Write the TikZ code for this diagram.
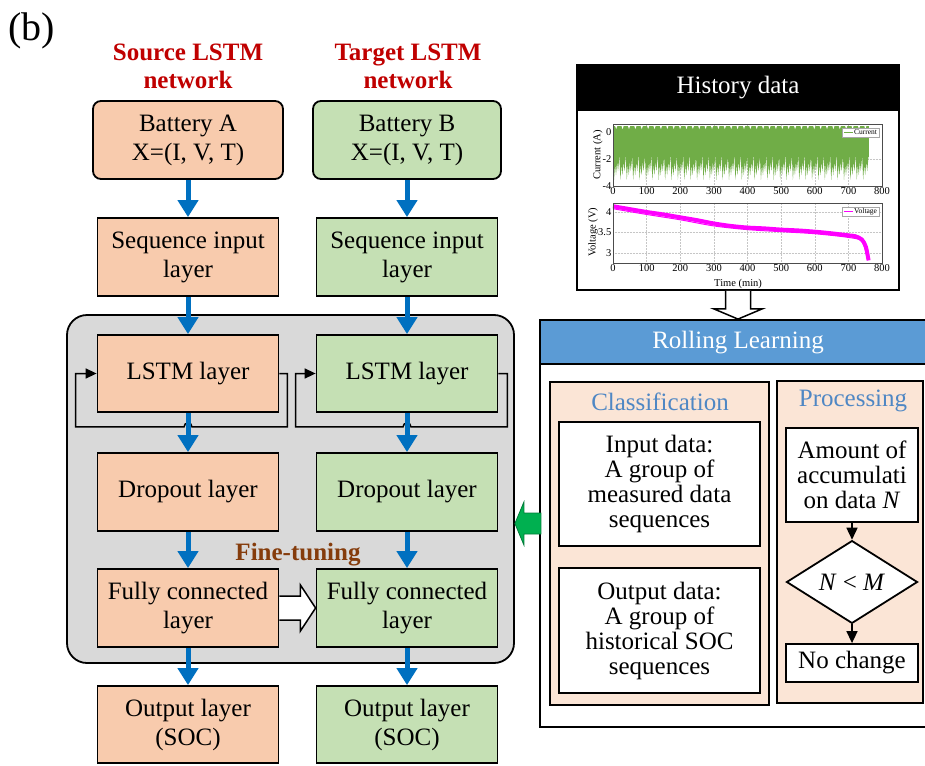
\documentclass[tikz,border=0pt]{standalone}
\usepackage{fontspec}
\setmainfont{Liberation Serif}
\usetikzlibrary{arrows.meta,shapes.geometric,calc}
\definecolor{peach}{RGB}{248,203,173}
\definecolor{mint}{RGB}{197,224,180}
\definecolor{panelgray}{RGB}{217,217,217}
\definecolor{arrowblue}{RGB}{0,112,192}
\definecolor{headblue}{RGB}{91,155,213}
\definecolor{titlered}{RGB}{192,0,0}
\definecolor{finebrown}{RGB}{133,60,12}
\definecolor{lightpeach}{RGB}{251,229,214}
\definecolor{textblue}{RGB}{79,135,196}
\definecolor{plotgreen}{RGB}{112,173,71}
\definecolor{arrowgreen}{RGB}{0,176,80}
\definecolor{plotmagenta}{RGB}{255,0,255}
\tikzset{
  base/.style={font=\fontsize{25}{29}\selectfont, align=center, inner sep=0pt},
  layerA/.style={base, draw=black, line width=1.8pt, fill=peach, minimum width=181pt, minimum height=78pt},
  layerB/.style={layerA, fill=mint},
  flow/.style={draw=arrowblue, line width=5pt, -{Triangle[width=20pt,length=17pt]}},
  fb/.style={draw=black, line width=1.5pt, -{Triangle[width=10pt,length=11pt]}},
  barrow/.style={draw=black, line width=1.5pt, -{Triangle[width=11pt,length=12pt]}},
  titletxt/.style={base, font=\fontsize{25}{28}\selectfont\bfseries, text=titlered},
  frame/.style={draw=black, line width=1.8pt, inner sep=0pt},
  wbox/.style={base, font=\fontsize{25}{25}\selectfont, draw=black, line width=1.8pt, fill=white},
  gridl/.style={draw=gray!45, line width=0.5pt, densely dotted},
  axisl/.style={draw=gray!60!black, line width=0.6pt},
  tick/.style={font=\fontsize{10.5}{12}\selectfont, inner sep=1.5pt},
  legendbox/.style={draw=gray!70, fill=white, line width=0.4pt, inner sep=0pt, minimum width=37pt, minimum height=9pt, font=\fontsize{7.5}{8}\selectfont},
}
\begin{document}
\begin{tikzpicture}[x=1pt,y=-1pt]
\useasboundingbox (0,0) rectangle (925,765);
\fill[white] (0,0) rectangle (925,765);

% label and titles
\node[base, font=\fontsize{40}{44}\selectfont] (lab) at (32,31) {(b)};
\node[titletxt] (srcT) at (188,66) {Source LSTM\\network};
\node[titletxt] (tgtT) at (408,66) {Target LSTM\\network};

% gray fine-tuning frame
\node[frame, fill=panelgray, rounded corners=20pt, minimum width=447pt, minimum height=348pt] (ft) at (290.5,489) {};

% source column
\node[layerA, rounded corners=8pt, minimum width=190pt] (batA) at (188,140) {Battery A\\X=(I, V, T)};
\node[layerA] (seqA) at (188,257) {Sequence input\\layer};
\node[layerA, minimum height=77pt] (lstmA) at (188,373.5) {LSTM layer};
\node[layerA] (dropA) at (188,492) {Dropout layer};
\node[layerA] (fcA) at (188,608) {Fully connected\\layer};
\node[layerA, minimum height=77pt] (outA) at (188,724.5) {Output layer\\(SOC)};

% target column
\node[layerB, rounded corners=8pt, minimum width=188pt] (batB) at (407,140) {Battery B\\X=(I, V, T)};
\node[layerB] (seqB) at (407,257) {Sequence input\\layer};
\node[layerB, minimum height=77pt] (lstmB) at (407,373.5) {LSTM layer};
\node[layerB] (dropB) at (407,492) {Dropout layer};
\node[layerB] (fcB) at (407,608) {Fully connected\\layer};
\node[layerB, minimum height=77pt] (outB) at (407,724.5) {Output layer\\(SOC)};

\node[base, font=\fontsize{25}{28}\selectfont\bfseries, text=finebrown] (ftl) at (298,555) {Fine-tuning};

% recurrent loops
\draw[fb] (lstmA.east) -- ++(8,0) |- ($(lstmA.south)+(4,14)$) arc[start angle=0,end angle=-180,radius=4] -| ($(lstmA.west)+(-21,0)$) -- (lstmA.west);
\draw[fb] (lstmB.east) -- ++(9,0) |- ($(lstmB.south)+(4,14)$) arc[start angle=0,end angle=-180,radius=4] -| ($(lstmB.west)+(-20,0)$) -- (lstmB.west);

% blue flow arrows
\foreach \c in {A,B}{
  \draw[flow] (bat\c) -- (seq\c);
  \draw[flow] (seq\c) -- (lstm\c);
  \draw[flow] (lstm\c) -- (drop\c);
  \draw[flow] (drop\c) -- (fc\c);
  \draw[flow] (fc\c) -- (out\c);
}

% hollow transfer arrow
\filldraw[fill=white, draw=black, line width=1.5pt] ($(fcA.east)+(0,-12)$) -- ++(21,0) -- ++(0,-11) -- (fcB.west) -- ($(fcA.east)+(21,23)$) -- ++(0,-11) -- ($(fcA.east)+(0,12)$);

% history data panel
\node[frame, line width=1.5pt, fill=white, minimum width=322pt, minimum height=225pt] (hist) at (738,177.5) {};
\node[base, fill=black, text=white, minimum width=322pt, minimum height=46pt] (histH) at (738,88) {History data};

% current plot
\begin{scope}[shift={(613pt,-132pt)}, x=0.33625pt, y=13.5pt]
  \foreach \t in {100,200,...,700} \draw[gridl] (\t,-4) -- (\t,0.6);
  \draw[gridl] (0,-2) -- (800,-2);
  \fill[plotgreen] (0,0.45) rectangle (760,-1.85);
  \foreach \i in {0,...,39}{
    \fill[plotgreen] (\i*19,-1.8) -- (\i*19+3,-3.55) -- (\i*19+6,-2.4) -- (\i*19+9,-3.2) -- (\i*19+12,-2.2) -- (\i*19+15,-2.9) -- (\i*19+19,-1.8) -- cycle;
    \fill[white] (\i*19+6,0.47) -- (\i*19+9.5,0.22) -- (\i*19+13,0.47) -- cycle;
  }
  \draw[axisl] (0,-4) rectangle (800,0.6);
  \foreach \t in {0,100,...,800} \node[tick, below] at (\t,-4) {\t};
  \node[tick, left] at (0,0) {0};
  \node[tick, left] at (0,-2) {-2};
  \node[tick, left] at (0,-4) {-4};
  \node[tick, rotate=90] at (-45,-1.7) {Current (A)};
  \node[legendbox] at (736,-0.04) {\textcolor{plotgreen}{\rule[2pt]{9pt}{1.2pt}}\,Current};
\end{scope}

% voltage plot
\begin{scope}[shift={(613pt,-376pt)}, x=0.33625pt, y=41pt]
  \foreach \t in {100,200,...,700} \draw[gridl] (\t,2.756) -- (\t,4.22);
  \foreach \v in {3,3.5,4} \draw[gridl] (0,\v) -- (800,\v);
  \draw[plotmagenta, line width=4pt, line join=round] plot[smooth] coordinates {(0,4.14) (50,4.07) (100,4.0) (150,3.94) (200,3.87) (250,3.8) (300,3.72) (350,3.66) (400,3.62) (450,3.6) (500,3.57) (550,3.55) (600,3.52) (650,3.48) (700,3.43) (720,3.41) (740,3.33) (752,3.15) (760,2.82)};
  \draw[plotmagenta, line width=1pt] plot[smooth] coordinates {(0,4.08) (100,3.94) (200,3.81) (300,3.66) (400,3.57) (500,3.52) (600,3.47) (700,3.38) (740,3.28) (758,2.82)};
  \draw[axisl] (0,2.756) rectangle (800,4.22);
  \foreach \t in {0,100,...,800} \node[tick, below] at (\t,2.756) {\t};
  \node[tick, left] at (0,4) {4};
  \node[tick, left] at (0,3.5) {3.5};
  \node[tick, left] at (0,3) {3};
  \node[tick, rotate=90] at (-59,3.51) {Voltage (V)};
  \node[tick] at (372,2.25) {Time (min)};
  \node[legendbox] at (736,4.0) {\textcolor{plotmagenta}{\rule[2pt]{9pt}{1.2pt}}\,Voltage};
\end{scope}

% rolling learning panel
\node[frame, fill=white, minimum width=389pt, minimum height=407pt] (rlf) at (734.5,523.5) {};
\node[frame, fill=headblue, minimum width=389pt, minimum height=44pt] (rlh) at (734.5,342) {};
\node[base, text=white] (rlt) at (738,343) {Rolling Learning};

% hollow arrow history -> rolling learning
\filldraw[fill=white, draw=black, line width=1.5pt] ($(hist.south)+(-12.5,0)$) -- ++(0,18) -- ++(-12,0) -- (hist.south |- rlh.north) -- ($(hist.south)+(24.5,18)$) -- ++(-12,0) -- ($(hist.south)+(12.5,0)$);

% classification
\node[frame, fill=lightpeach, minimum width=219pt, minimum height=323pt] (cls) at (659.5,543.5) {};
\node[base, text=textblue] (clsT) at (660,402) {Classification};
\node[wbox, minimum width=201pt, minimum height=124pt] (inp) at (659.5,484) {Input data:\\A group of\\measured data\\sequences};
\node[wbox, minimum width=201pt, minimum height=125pt] (outp) at (659.5,630.5) {Output data:\\A group of\\historical SOC\\sequences};

% processing
\node[frame, fill=lightpeach, minimum width=146pt, minimum height=322pt] (proc) at (850,542) {};
\node[base, text=textblue] (procT) at (853,401) {Processing};
\node[wbox, minimum width=132pt, minimum height=94pt] (amt) at (852,475) {Amount of\\accumulati\\on data \textit{N}};
\node[wbox, diamond, minimum width=131pt, minimum height=57pt] (dia) at (852,582) {\textit{N} < \textit{M}};
\node[wbox, minimum width=132pt, minimum height=38pt] (noch) at (852,663) {No change};
\draw[barrow] (amt) -- (dia);
\draw[barrow] (dia) -- (noch);

% green arrow rolling learning -> fine-tuning
\filldraw[fill=arrowgreen, draw=arrowgreen!70!black, line width=0.8pt] (ft.east |- rlf.west) -- ++(9,-21.5) -- ++(0,11) -- ++(17,0) -- ++(0,21) -- ++(-17,0) -- ++(0,11) -- cycle;
\end{tikzpicture}
\end{document}
